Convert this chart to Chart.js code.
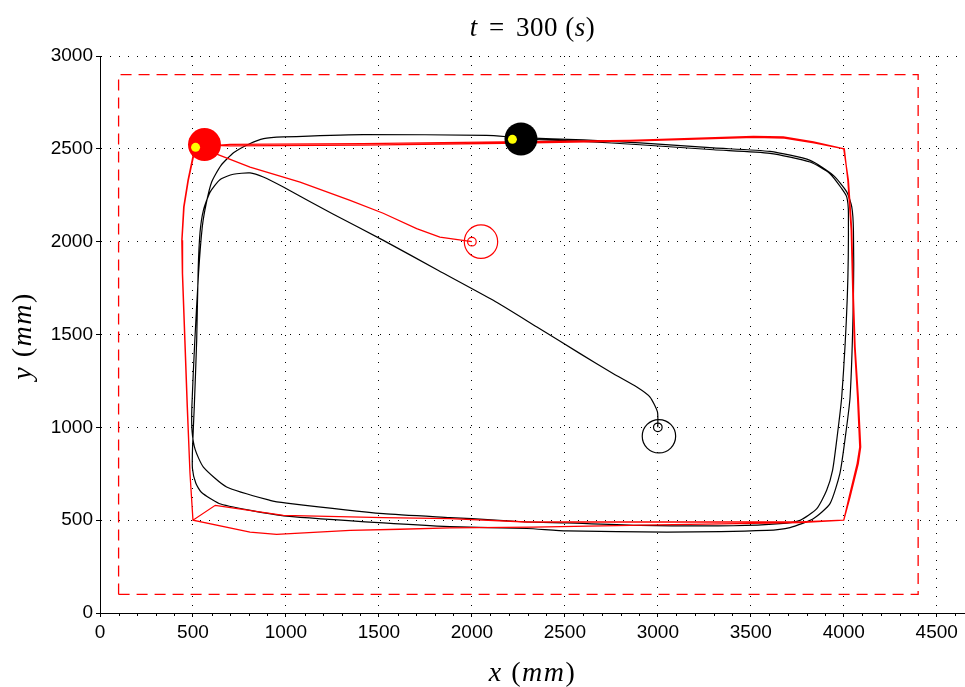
<!DOCTYPE html>
<html>
<head>
<meta charset="utf-8">
<script src="https://cdn.jsdelivr.net/npm/chart.js@4"></script>
<style>
body{margin:0;background:#fff}
#wrap{position:relative;width:965px;height:687px}
canvas{position:absolute;left:0;top:0}
.lbl{position:absolute;font-family:"Liberation Serif",serif;color:#000;white-space:nowrap;line-height:30px;letter-spacing:0.5px}
.lbl i{font-style:italic}
.lbl b{font-weight:normal;margin:0 4px}
.ax{font-size:28px;letter-spacing:1.5px}
</style>
</head>
<body>
<div id="wrap">
<canvas id="c" width="965" height="687"></canvas>
<div class="lbl" style="left:100px;width:865px;top:12px;text-align:center;font-size:27px"><i>t</i> <b>=</b> 300 (<i>s</i>)</div>
<div class="lbl ax" style="left:100px;width:865px;top:657px;text-align:center"><i>x</i> (<i>mm</i>)</div>
<div class="lbl ax" style="left:-28px;top:321px;width:100px;text-align:center;transform:rotate(-90deg)"><i>y</i> (<i>mm</i>)</div>
</div>
<script>
// arena border (dashed)
var rectX = [100, 4400, 4400, 100, 100];
var rectY = [100, 100, 2900, 2900, 100];

// red robot path
var redX = [2000, 1828, 1703, 1523, 1345, 1076, 807, 645, 540,
	502, 475, 452, 441, 444, 457, 470, 484, 500,
	807, 950, 1345, 1613, 1882, 2329, 3000, 3765, 4000,
	4034, 4078, 4091, 4078, 4061, 4052, 4043, 4025, 4000,
	3837, 3675, 3514, 2850, 2169, 1416, 699, 520,
	500, 473, 450, 440, 443, 456, 469, 484, 500,
	620, 986, 1524, 1882, 2295, 3000, 3765, 4000,
	4029, 4072, 4086, 4074, 4058, 4049, 4040, 4022, 4003,
	3840, 3680, 3520, 2850, 2169, 1416, 700, 560];
var redY = [2000, 2025, 2070, 2153, 2222, 2321, 2402, 2465, 2505,
	2456, 2330, 2187, 2007, 1828, 1469, 1110, 751, 500,
	436, 424, 445, 451, 458, 463, 475, 487, 500,
	625, 805, 894, 1163, 1433, 1702, 2061, 2330, 2500,
	2537, 2564, 2567, 2546, 2537, 2528, 2524, 2510,
	2460, 2330, 2187, 2007, 1828, 1469, 1110, 751, 500,
	580, 526, 514, 508, 490, 490, 490, 500,
	625, 805, 894, 1163, 1433, 1702, 2061, 2330, 2500,
	2532, 2558, 2562, 2541, 2530, 2520, 2516, 2520];

// black robot path
var blackX = [3000, 2998, 2958, 2887, 2761, 2582, 2350, 2115, 1820, 1524, 1250, 986, 878, 807, 717, 645, 592, 556, 538, 528,
	520, 507, 498, 497, 515, 545, 640, 810, 1004, 1524, 1882, 2295, 2510, 3048, 3586, 3711,
	3836, 3926, 3979, 4006, 4034, 4052, 4052, 4043, 4016, 3944, 3819, 3603,
	3300, 2904, 2600, 2264, 2079, 1416, 986, 880, 800, 720, 650, 600, 570, 550,
	530, 510, 494, 495, 512, 556, 681, 914, 1004, 1524, 1882, 1999, 2295, 2510, 2904, 3406, 3657, 3765,
	3855, 3908, 3940, 3962, 3989, 4019, 4025, 4016, 3989, 3926, 3819, 3603,
	3300, 2904, 2600, 2264];
var blackY = [1000, 1083, 1163, 1217, 1289, 1397, 1540, 1684, 1845, 2007, 2150, 2294, 2348, 2370, 2363, 2334, 2267, 2169, 2050, 1850,
	1469, 1110, 900, 780, 700, 650, 590, 553, 522, 485, 465, 455, 442, 436, 445, 460,
	508, 589, 751, 930, 1163, 1702, 2061, 2187, 2268, 2357, 2438, 2486,
	2505, 2532, 2548, 2560, 2572, 2577, 2564, 2555, 2525, 2480, 2410, 2320, 2200, 2079,
	1830, 1469, 1110, 980, 880, 786, 679, 607, 592, 535, 514, 508, 490, 485, 472, 470, 481, 499,
	562, 661, 770, 930, 1163, 1702, 2151, 2241, 2286, 2366, 2429, 2476,
	2495, 2522, 2540, 2553];

// start points, start outlines, current positions, yellow markers
var startX = [2000, 3000];
var startY = [2000, 1000];
var outlineX = [2049, 3006];
var outlineY = [2000, 952];
var robotX = [562, 2264];
var robotY = [2523, 2553];
var markX = [514, 2218];
var markY = [2508, 2551];

// axes
var xTicks = [0, 500, 1000, 1500, 2000, 2500, 3000, 3500, 4000, 4500];
var yTicks = [0, 500, 1000, 1500, 2000, 2500, 3000];
var xMax = 4652;

function pts(xs, ys) {
	return xs.map(function (v, k) { return {x: v, y: ys[k]}; }); //пары точек
}

var minorTicks = {
	id: 'minorTicks',
	afterDraw: function (chart) {
		var xs = chart.scales.x, ctx = chart.ctx, b = chart.chartArea.bottom;
		ctx.save();
		ctx.strokeStyle = '#000';
		ctx.lineWidth = 1;
		for (var v = 100; v < xMax; v += 100) {
			if (v % 500 === 0) continue;
			var px = Math.round(xs.getPixelForValue(v)) + 0.5;
			ctx.beginPath();
			ctx.moveTo(px, b);
			ctx.lineTo(px, b + 3);
			ctx.stroke();
		}
		ctx.restore();
	}
};

var tickFont = {family: '"Liberation Sans", Arial, sans-serif', size: 19};

var ctx = document.getElementById('c').getContext('2d');
new Chart(ctx, {
	type: 'scatter',
	data: {
		datasets: [{
			data: pts(markX, markY), backgroundColor: '#ffff00', borderWidth: 0,
			pointRadius: 4.5, order: 0
		}, {
			data: [{x: robotX[0], y: robotY[0]}], backgroundColor: '#ff0000', borderWidth: 0,
			pointRadius: 16.5, order: 1
		}, {
			data: [{x: robotX[1], y: robotY[1]}], backgroundColor: '#000000', borderWidth: 0,
			pointRadius: 16.5, order: 1
		}, {
			data: [{x: outlineX[0], y: outlineY[0]}, {x: startX[0], y: startY[0]}],
			backgroundColor: 'rgba(0,0,0,0)', borderColor: '#ff0000', borderWidth: 1.2,
			pointRadius: [16.7, 4.3], order: 2
		}, {
			data: [{x: outlineX[1], y: outlineY[1]}, {x: startX[1], y: startY[1]}],
			backgroundColor: 'rgba(0,0,0,0)', borderColor: '#000000', borderWidth: 1.2,
			pointRadius: [16.7, 4.3], order: 2
		}, {
			data: pts(redX, redY), showLine: true, borderColor: '#ff0000', borderWidth: 1.3,
			pointRadius: 0, tension: 0, order: 3
		}, {
			data: pts(blackX, blackY), showLine: true, borderColor: '#000000', borderWidth: 1.2,
			pointRadius: 0, tension: 0.2, order: 4
		}, {
			data: pts(rectX, rectY), showLine: true, borderColor: '#ff0000', borderWidth: 1.3,
			borderDash: [11, 7], pointRadius: 0, tension: 0, order: 5
		}]
	},
	options: {
		responsive: false,
		animation: false,
		events: [],
		layout: {autoPadding: false, padding: {left: 0, right: 0, top: 56, bottom: 0}},
		plugins: {legend: {display: false}, tooltip: {enabled: false}, title: {display: false}},
		scales: {
			x: {
				type: 'linear', min: 0, max: xMax,
				afterFit: function (s) { s.height = 74; s.paddingLeft = 0; s.paddingRight = 0; },
				afterBuildTicks: function (s) { s.ticks = xTicks.map(function (v) { return {value: v}; }); },
				grid: {color: '#000', lineWidth: 1, tickLength: 4, tickColor: '#000'},
				border: {color: '#000', width: 1, dash: [1, 8]},
				ticks: {color: '#000', padding: 4, font: tickFont,
					callback: function (v) { return String(v); }}
			},
			y: {
				type: 'linear', min: 0, max: 3000,
				afterFit: function (s) { s.width = 100; },
				afterBuildTicks: function (s) { s.ticks = yTicks.map(function (v) { return {value: v}; }); },
				grid: {color: '#000', lineWidth: 1, tickLength: 4, tickColor: '#000'},
				border: {color: '#000', width: 1, dash: [1, 8]},
				ticks: {color: '#000', padding: 3, font: tickFont,
					callback: function (v) { return String(v); }}
			}
		}
	},
	plugins: [minorTicks]
});
</script>
</body>
</html>
